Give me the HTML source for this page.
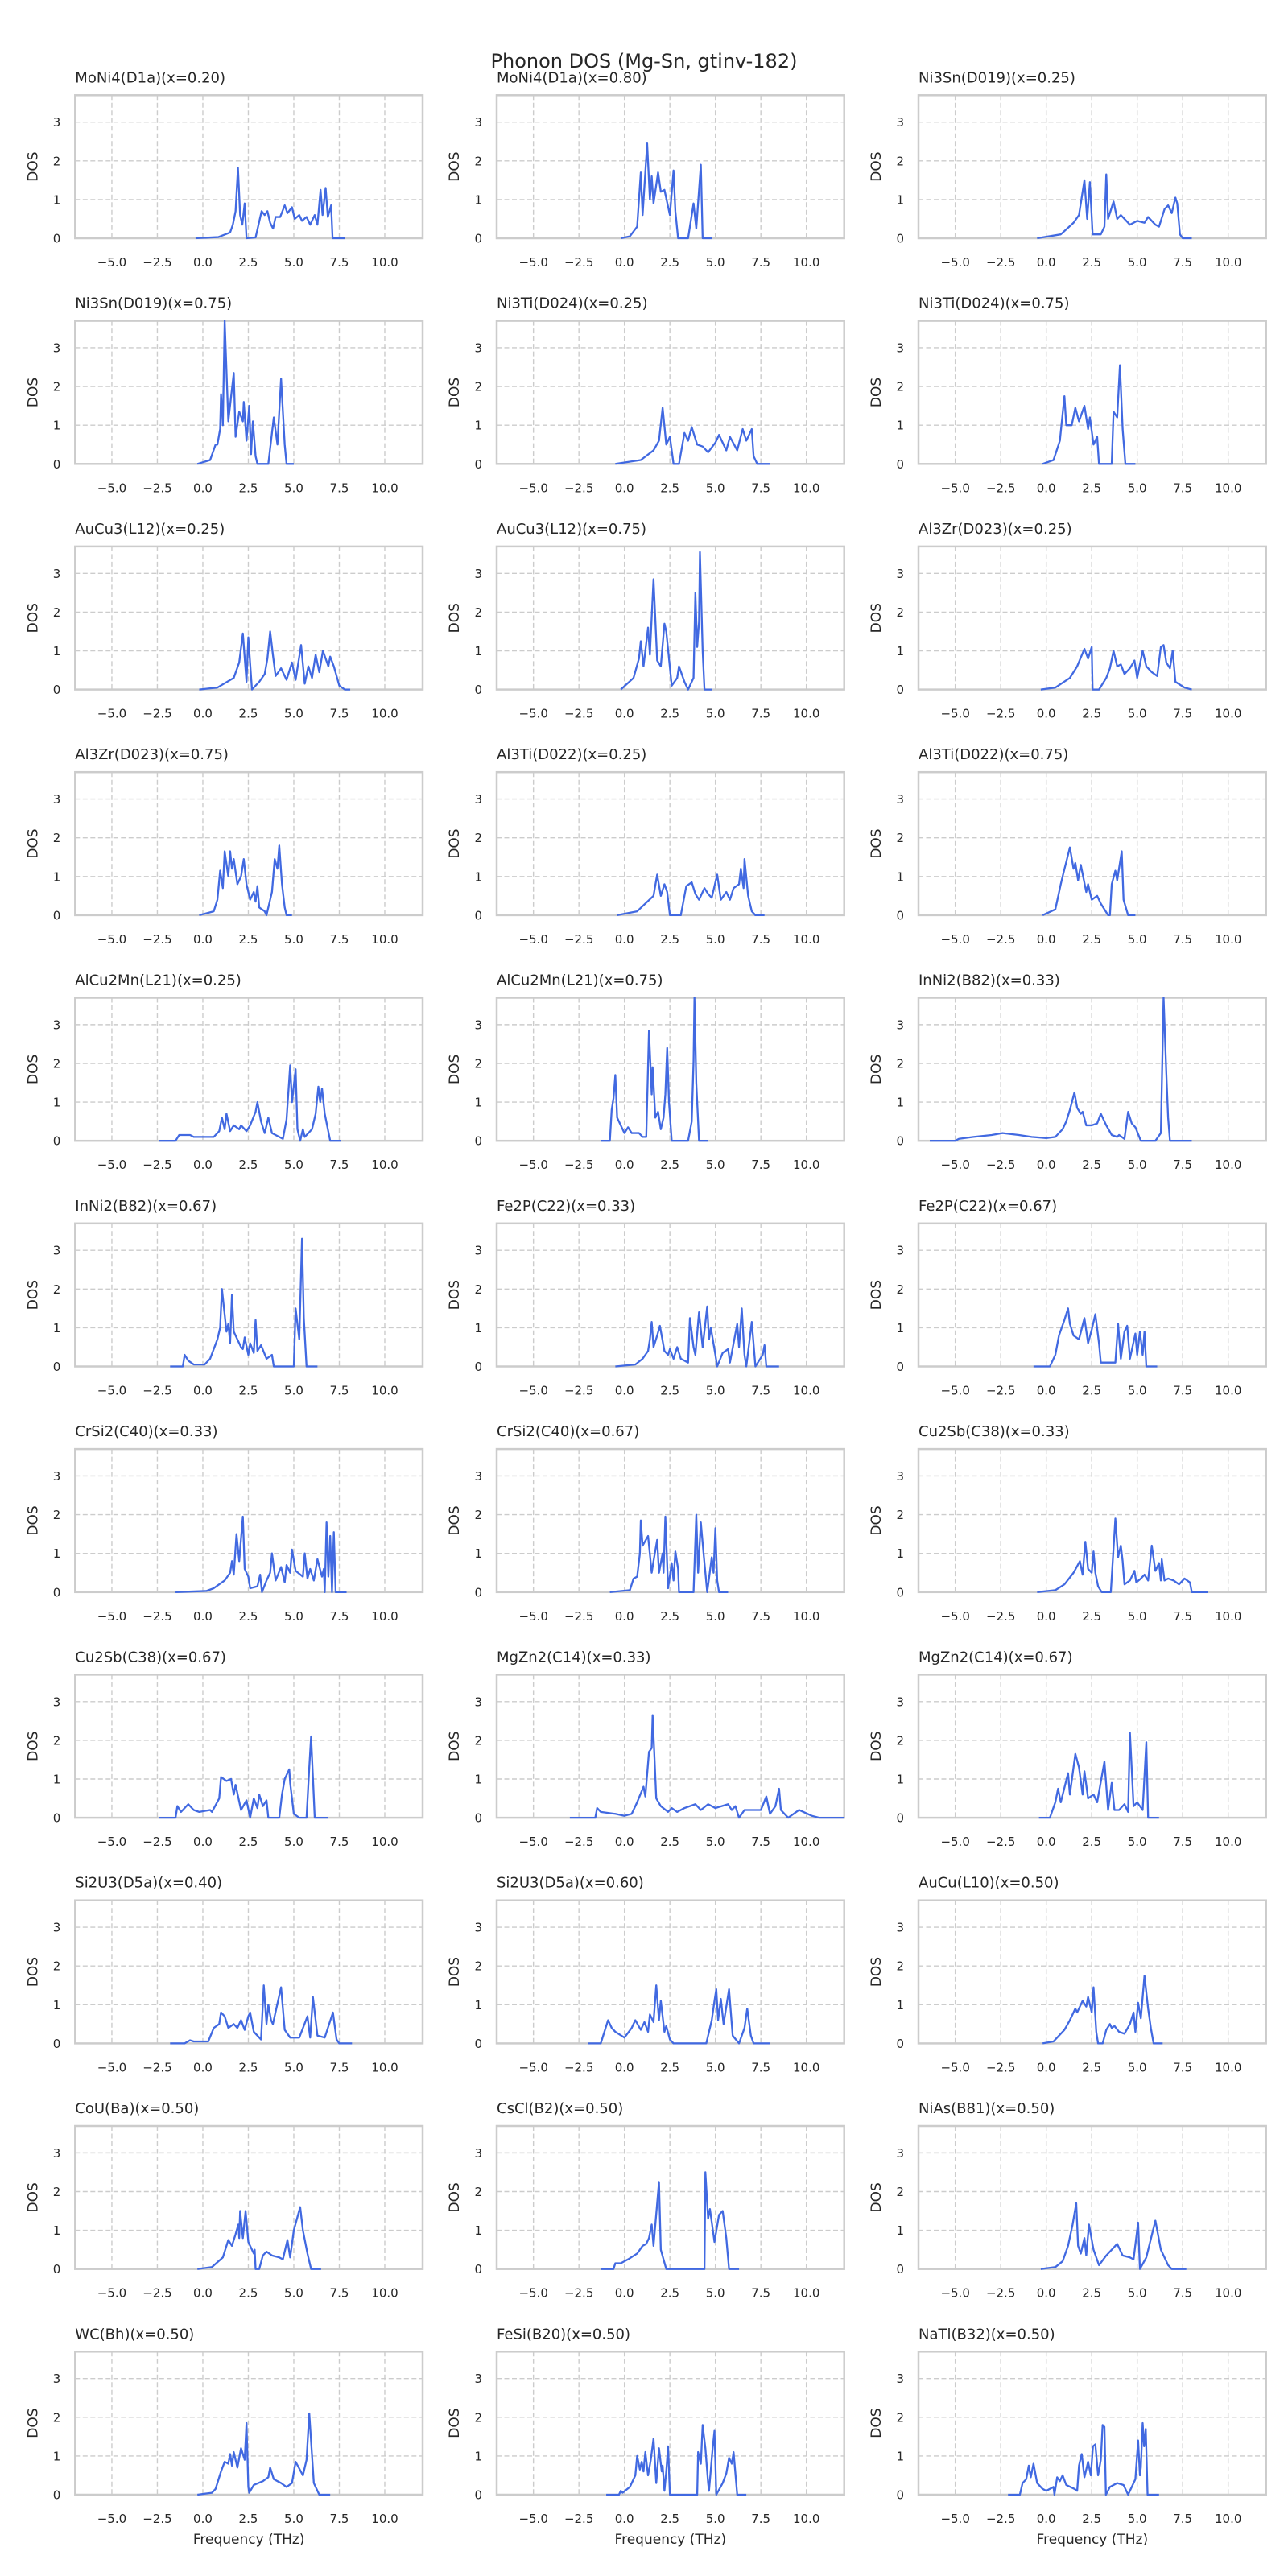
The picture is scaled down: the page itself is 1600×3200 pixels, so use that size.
<!DOCTYPE html>
<html><head><meta charset="utf-8"><title>Phonon DOS (Mg-Sn, gtinv-182)</title>
<style>
html,body{margin:0;padding:0;background:#fff;}
svg{display:block;font-family:"DejaVu Sans","Liberation Sans",sans-serif;}
</style></head>
<body>
<svg id="fig" width="1600" height="3200" viewBox="0 0 1600 3200" xmlns="http://www.w3.org/2000/svg">
<rect x="0" y="0" width="1600" height="3200" fill="#ffffff"/>
<text x="800" y="84" text-anchor="middle" font-size="24" fill="#262626">Phonon DOS (Mg-Sn, gtinv-182)</text>
</svg>
<script>
const titles = ["MoNi4(D1a)(x=0.20)","MoNi4(D1a)(x=0.80)","Ni3Sn(D019)(x=0.25)","Ni3Sn(D019)(x=0.75)","Ni3Ti(D024)(x=0.25)","Ni3Ti(D024)(x=0.75)","AuCu3(L12)(x=0.25)","AuCu3(L12)(x=0.75)","Al3Zr(D023)(x=0.25)","Al3Zr(D023)(x=0.75)","Al3Ti(D022)(x=0.25)","Al3Ti(D022)(x=0.75)","AlCu2Mn(L21)(x=0.25)","AlCu2Mn(L21)(x=0.75)","InNi2(B82)(x=0.33)","InNi2(B82)(x=0.67)","Fe2P(C22)(x=0.33)","Fe2P(C22)(x=0.67)","CrSi2(C40)(x=0.33)","CrSi2(C40)(x=0.67)","Cu2Sb(C38)(x=0.33)","Cu2Sb(C38)(x=0.67)","MgZn2(C14)(x=0.33)","MgZn2(C14)(x=0.67)","Si2U3(D5a)(x=0.40)","Si2U3(D5a)(x=0.60)","AuCu(L10)(x=0.50)","CoU(Ba)(x=0.50)","CsCl(B2)(x=0.50)","NiAs(B81)(x=0.50)","WC(Bh)(x=0.50)","FeSi(B20)(x=0.50)","NaTl(B32)(x=0.50)"];
const xTicks = [-5, -2.5, 0, 2.5, 5, 7.5, 10];
const xTickLabels = ["\u22125.0","\u22122.5","0.0","2.5","5.0","7.5","10.0"];
const yTicks = [0, 1, 2, 3];
const yTickLabels = ["0","1","2","3"];
const xLim = [-7.02, 12.08];
const yLim = [0, 3.694];

// [frequency (THz), DOS] pairs per panel
const s0 = [[-0.4,0],[0.85,0.03],[1.5,0.15],[1.65,0.35],[1.8,0.7],[1.93,1.82],[2.05,0.6],[2.17,0.35],[2.3,0.9],[2.4,0],[2.9,0.02],[3.23,0.7],[3.4,0.6],[3.55,0.7],[3.7,0.4],[3.86,0.25],[4.0,0.55],[4.25,0.55],[4.5,0.85],[4.65,0.65],[4.9,0.8],[5.05,0.5],[5.3,0.6],[5.45,0.45],[5.7,0.55],[5.9,0.35],[6.15,0.6],[6.3,0.35],[6.47,1.25],[6.58,0.6],[6.75,1.3],[6.87,0.55],[7.05,0.85],[7.13,0],[7.8,0]];
const s1 = [[-0.2,0],[0.3,0.05],[0.7,0.3],[0.9,1.7],[1.0,0.6],[1.25,2.45],[1.4,1.0],[1.5,1.6],[1.6,0.9],[1.85,1.7],[2.0,1.2],[2.2,1.25],[2.5,0.6],[2.7,1.75],[2.8,0.7],[2.95,0],[3.5,0],[3.8,0.9],[3.95,0.25],[4.2,1.9],[4.3,0],[4.8,0]];
const s2 = [[-0.5,0],[0.8,0.1],[1.5,0.4],[1.8,0.6],[2.1,1.5],[2.25,0.5],[2.4,1.45],[2.55,0.1],[3.0,0.1],[3.2,0.3],[3.3,1.65],[3.4,0.5],[3.7,0.95],[3.9,0.5],[4.1,0.6],[4.6,0.35],[5.0,0.45],[5.4,0.4],[5.6,0.55],[6.0,0.35],[6.2,0.3],[6.5,0.75],[6.7,0.85],[6.9,0.65],[7.1,1.05],[7.2,0.9],[7.35,0.1],[7.5,0],[8.0,0]];
const s3 = [[-0.3,0],[0.4,0.1],[0.7,0.5],[0.8,0.5],[0.95,0.9],[1.0,1.8],[1.1,1.0],[1.2,3.7],[1.4,1.1],[1.7,2.35],[1.8,0.7],[2.0,1.35],[2.2,1.1],[2.25,1.6],[2.4,0.6],[2.55,1.5],[2.65,0.25],[2.75,1.1],[2.9,0.2],[3.0,0],[3.6,0],[3.8,0.8],[3.9,1.2],[4.1,0.5],[4.3,2.2],[4.5,0.5],[4.6,0],[5.0,0]];
const s4 = [[-0.5,0],[0.9,0.1],[1.6,0.35],[1.9,0.6],[2.1,1.45],[2.3,0.5],[2.5,0.7],[2.7,0],[3.0,0],[3.3,0.8],[3.5,0.6],[3.7,0.95],[4.0,0.5],[4.3,0.45],[4.6,0.3],[5.0,0.55],[5.2,0.75],[5.6,0.35],[5.8,0.7],[6.2,0.35],[6.5,0.9],[6.7,0.6],[7.0,0.9],[7.1,0.2],[7.3,0],[8.0,0]];
const s5 = [[-0.2,0],[0.4,0.1],[0.75,0.6],[1.0,1.75],[1.1,1.0],[1.4,1.0],[1.6,1.45],[1.8,1.1],[2.1,1.5],[2.3,0.9],[2.4,1.2],[2.6,0.5],[2.8,0.7],[2.9,0],[3.6,0],[3.7,1.35],[3.9,1.2],[4.05,2.55],[4.2,0.9],[4.35,0],[4.9,0]];
const s6 = [[-0.2,0],[0.8,0.05],[1.7,0.3],[2.0,0.7],[2.2,1.45],[2.4,0.2],[2.5,1.35],[2.7,0],[3.1,0.2],[3.4,0.4],[3.55,0.8],[3.7,1.5],[3.85,0.9],[4.0,0.35],[4.3,0.55],[4.6,0.25],[4.9,0.7],[5.1,0.25],[5.4,1.15],[5.6,0.15],[5.8,0.6],[6.0,0.3],[6.2,0.9],[6.4,0.45],[6.6,1.0],[6.9,0.6],[7.0,0.85],[7.2,0.6],[7.5,0.1],[7.8,0],[8.1,0]];
const s7 = [[-0.2,0],[0.5,0.3],[0.8,0.8],[0.9,1.25],[1.05,0.6],[1.3,1.6],[1.4,0.9],[1.6,2.85],[1.8,0.75],[2.0,0.6],[2.2,1.7],[2.3,1.5],[2.6,0.1],[2.9,0.3],[3.0,0.6],[3.3,0.2],[3.5,0],[3.8,0.3],[3.9,2.5],[4.0,1.1],[4.1,1.75],[4.15,3.55],[4.3,1.0],[4.4,0],[4.8,0]];
const s8 = [[-0.3,0],[0.5,0.05],[1.3,0.3],[1.7,0.6],[2.1,1.05],[2.3,0.8],[2.5,1.1],[2.55,0],[2.9,0],[3.3,0.3],[3.5,0.55],[3.7,1.0],[3.9,0.6],[4.1,0.65],[4.3,0.4],[4.6,0.55],[4.85,0.75],[5.0,0.3],[5.3,1.0],[5.5,0.6],[5.8,0.45],[6.1,0.35],[6.3,1.1],[6.45,1.15],[6.6,0.7],[6.8,0.55],[6.95,1.0],[7.1,0.2],[7.6,0.05],[8.0,0]];
const s9 = [[-0.2,0],[0.6,0.1],[0.8,0.4],[0.95,1.15],[1.1,0.7],[1.2,1.65],[1.4,1.0],[1.5,1.65],[1.6,1.2],[1.7,1.45],[1.9,0.8],[2.1,1.0],[2.25,1.45],[2.4,0.8],[2.6,0.4],[2.8,0.6],[2.9,0.35],[3.0,0.75],[3.1,0.2],[3.4,0.1],[3.5,0],[3.8,0.6],[3.95,1.45],[4.1,1.2],[4.2,1.8],[4.35,0.8],[4.5,0.2],[4.6,0],[4.9,0]];
const s10 = [[-0.4,0],[0.7,0.1],[1.6,0.5],[1.8,1.05],[2.0,0.5],[2.2,0.8],[2.35,0.6],[2.5,0],[3.1,0],[3.4,0.75],[3.7,0.85],[3.9,0.55],[4.1,0.4],[4.4,0.7],[4.6,0.55],[4.8,0.45],[5.1,1.05],[5.3,0.4],[5.6,0.6],[5.8,0.4],[6.0,0.7],[6.3,0.8],[6.4,1.2],[6.55,0.7],[6.6,1.45],[6.8,0.5],[7.0,0.1],[7.2,0],[7.7,0]];
const s11 = [[-0.2,0],[0.5,0.15],[0.8,0.8],[0.9,1.0],[1.3,1.75],[1.5,1.2],[1.6,1.35],[1.75,0.9],[1.9,1.3],[2.2,0.6],[2.3,0.8],[2.5,0.4],[2.8,0.5],[3.0,0.3],[3.4,0],[3.5,0],[3.6,0.8],[3.8,1.15],[3.9,0.9],[4.15,1.65],[4.25,0.4],[4.5,0],[4.9,0]];
const s12 = [[-2.4,0],[-1.5,0],[-1.3,0.15],[-0.7,0.15],[-0.5,0.1],[0.6,0.1],[0.9,0.25],[1.05,0.6],[1.2,0.3],[1.3,0.7],[1.5,0.25],[1.7,0.4],[2.0,0.3],[2.1,0.4],[2.4,0.25],[2.6,0.4],[2.9,0.75],[3.0,1.0],[3.2,0.5],[3.4,0.2],[3.6,0.6],[3.8,0.2],[4.4,0.05],[4.6,0.55],[4.8,1.95],[4.9,1.0],[5.1,1.85],[5.2,0.3],[5.35,0],[5.5,0.3],[5.6,0.1],[6.0,0.3],[6.2,0.7],[6.35,1.4],[6.45,1.0],[6.55,1.35],[6.7,0.7],[7.0,0],[7.6,0]];
const s13 = [[-1.3,0],[-0.8,0],[-0.7,0.8],[-0.6,1.1],[-0.5,1.7],[-0.4,0.6],[-0.2,0.4],[0.0,0.2],[0.2,0.35],[0.4,0.2],[0.8,0.2],[1.0,0.1],[1.2,0.1],[1.35,2.85],[1.5,1.2],[1.55,1.9],[1.7,0.6],[1.85,0.75],[2.0,0.3],[2.15,0.6],[2.25,1.2],[2.35,2.4],[2.45,1.0],[2.6,0],[3.5,0],[3.7,0.5],[3.8,2.05],[3.85,3.7],[3.95,1.5],[4.1,0],[4.6,0]];
const s14 = [[-6.4,0],[-5.0,0],[-4.8,0.05],[-4.0,0.1],[-3.0,0.15],[-2.4,0.2],[-1.5,0.15],[-0.8,0.1],[0.0,0.07],[0.5,0.1],[0.9,0.3],[1.1,0.5],[1.3,0.8],[1.55,1.25],[1.7,0.85],[1.9,0.7],[2.0,0.75],[2.2,0.4],[2.5,0.4],[2.8,0.45],[3.0,0.7],[3.3,0.4],[3.6,0.15],[3.9,0.1],[4.0,0.15],[4.3,0.05],[4.5,0.75],[4.7,0.45],[4.9,0.35],[5.2,0],[6.0,0],[6.3,0.2],[6.45,3.7],[6.6,1.75],[6.7,0.6],[6.8,0],[8.0,0]];
const s15 = [[-1.8,0],[-1.1,0],[-1.0,0.3],[-0.8,0.15],[-0.5,0.05],[0.1,0.05],[0.4,0.2],[0.8,0.7],[0.95,1.0],[1.05,2.0],[1.3,0.9],[1.4,1.1],[1.5,0.6],[1.6,1.85],[1.7,0.9],[2.1,0.5],[2.2,0.45],[2.3,0.75],[2.5,0.3],[2.6,0.6],[2.8,0.35],[2.9,1.2],[3.0,0.4],[3.2,0.55],[3.5,0.2],[3.8,0.3],[3.9,0],[5.0,0],[5.1,1.5],[5.3,0.7],[5.45,3.3],[5.55,1.25],[5.7,0],[6.3,0]];
const s16 = [[-0.5,0],[0.6,0.05],[1.0,0.2],[1.3,0.4],[1.4,0.7],[1.5,1.15],[1.6,0.5],[1.8,0.8],[1.95,1.05],[2.2,0.4],[2.4,0.3],[2.5,0.45],[2.7,0.2],[2.9,0.5],[3.1,0.2],[3.5,0.1],[3.6,1.25],[3.8,0.5],[3.9,0.3],[4.1,1.4],[4.3,0.5],[4.55,1.55],[4.65,0.7],[4.75,1.0],[5.0,0.3],[5.1,0],[5.4,0.35],[5.7,0.45],[5.8,0.1],[6.2,1.1],[6.3,0.5],[6.45,1.5],[6.6,0.3],[6.7,0],[7.0,1.15],[7.2,0],[7.6,0.3],[7.7,0.55],[7.8,0],[8.5,0]];
const s17 = [[-0.7,0],[0.2,0],[0.5,0.3],[0.7,0.8],[1.0,1.2],[1.2,1.5],[1.3,1.1],[1.5,0.8],[1.8,0.7],[2.1,1.25],[2.3,0.6],[2.5,0.95],[2.7,1.35],[2.9,0.6],[3.0,0.1],[3.8,0.1],[3.95,1.1],[4.1,0.2],[4.3,0.9],[4.45,1.05],[4.6,0.2],[4.9,0.85],[5.0,0.3],[5.15,0.9],[5.3,0.3],[5.4,0.9],[5.5,0],[6.1,0]];
const s18 = [[-1.5,0],[0.2,0.03],[0.6,0.1],[1.2,0.3],[1.5,0.5],[1.6,0.8],[1.7,0.45],[1.85,1.5],[2.0,0.8],[2.05,1.1],[2.2,1.95],[2.3,0.6],[2.5,0.4],[2.6,0.1],[3.0,0.15],[3.15,0.45],[3.25,0],[3.5,0.3],[3.7,0.5],[3.8,1.0],[4.0,0.3],[4.3,0.65],[4.5,0.25],[4.6,0.7],[4.8,0.5],[4.9,1.1],[5.1,0.55],[5.5,0.4],[5.6,1.0],[5.75,0.35],[5.9,0.6],[6.1,0.3],[6.3,0.85],[6.55,0.4],[6.65,0.6],[6.7,0],[6.8,1.8],[6.9,0.4],[7.0,1.45],[7.1,0],[7.2,1.55],[7.3,0],[7.9,0]];
const s19 = [[-0.8,0],[0.3,0.05],[0.5,0.35],[0.7,0.4],[0.85,1.0],[0.9,1.85],[1.0,1.2],[1.3,1.45],[1.5,0.5],[1.6,0.8],[1.8,1.35],[1.9,0.5],[2.1,1.0],[2.15,0.5],[2.25,1.95],[2.4,0.1],[2.6,0.75],[2.7,0.3],[2.8,1.05],[2.95,0.6],[3.0,0],[3.8,0],[3.95,2.0],[4.05,0.5],[4.2,1.8],[4.35,1.0],[4.55,0],[4.8,0.9],[4.9,0.5],[5.0,1.65],[5.1,0.3],[5.2,0],[5.7,0]];
const s20 = [[-0.5,0],[0.5,0.05],[1.0,0.2],[1.5,0.5],[1.85,0.8],[2.0,0.45],[2.15,1.3],[2.3,0.6],[2.5,0.5],[2.6,1.05],[2.7,0.5],[2.85,0.15],[3.05,0],[3.55,0],[3.8,1.9],[3.95,0.9],[4.1,1.2],[4.2,0.8],[4.3,0.2],[4.6,0.3],[4.85,0.55],[4.95,0.25],[5.2,0.35],[5.4,0.45],[5.6,0.3],[5.8,1.2],[6.0,0.55],[6.2,0.75],[6.3,0.3],[6.35,0.85],[6.5,0.3],[6.7,0.35],[7.0,0.3],[7.3,0.2],[7.6,0.35],[7.9,0.25],[8.0,0],[8.9,0]];
const s21 = [[-2.4,0],[-1.5,0],[-1.4,0.3],[-1.2,0.15],[-0.8,0.35],[-0.5,0.2],[-0.2,0.15],[0.4,0.2],[0.5,0.15],[0.9,0.5],[1.0,1.05],[1.3,0.95],[1.55,1.0],[1.7,0.6],[1.8,0.85],[2.1,0.2],[2.4,0.45],[2.6,0],[2.8,0.5],[3.0,0.25],[3.1,0.6],[3.3,0.3],[3.5,0.45],[3.6,0],[4.2,0],[4.35,0.6],[4.5,1.0],[4.75,1.25],[4.8,0.9],[5.0,0.1],[5.3,0],[5.7,0],[5.85,1.3],[5.95,2.1],[6.15,0],[6.9,0]];
const s22 = [[-3.0,0],[-1.6,0],[-1.5,0.25],[-1.3,0.15],[-0.5,0.1],[0.0,0.05],[0.4,0.1],[0.7,0.4],[1.05,0.8],[1.15,0.55],[1.35,1.7],[1.5,1.8],[1.55,2.65],[1.75,0.5],[2.0,0.3],[2.4,0.15],[2.6,0.25],[2.9,0.15],[3.3,0.25],[3.9,0.35],[4.2,0.2],[4.6,0.35],[5.0,0.25],[5.7,0.35],[5.9,0.2],[6.1,0.3],[6.3,0],[6.6,0.2],[7.5,0.2],[7.8,0.55],[8.0,0.1],[8.3,0.3],[8.5,0.75],[8.6,0.2],[9.0,0],[9.6,0.2],[10.3,0.05],[10.7,0],[12.1,0]];
const s23 = [[-0.4,0],[0.2,0],[0.5,0.4],[0.65,0.75],[0.8,0.4],[1.2,1.15],[1.3,0.6],[1.6,1.65],[1.8,1.3],[2.0,0.6],[2.1,1.2],[2.3,0.5],[2.6,0.6],[2.8,0.4],[3.2,1.45],[3.4,0.2],[3.6,0.9],[3.75,0.2],[4.0,0.2],[4.3,0.35],[4.5,0.15],[4.6,2.2],[4.8,0.3],[5.0,0.4],[5.3,0.2],[5.5,1.95],[5.6,0],[6.2,0]];
const s24 = [[-1.8,0],[-1.0,0],[-0.7,0.08],[-0.5,0.05],[0.3,0.05],[0.6,0.4],[0.9,0.5],[1.0,0.8],[1.2,0.7],[1.4,0.4],[1.7,0.5],[1.9,0.4],[2.1,0.6],[2.3,0.35],[2.5,0.7],[2.6,0.8],[2.8,0.3],[3.2,0.1],[3.35,1.5],[3.5,0.5],[3.6,1.0],[3.75,0.6],[3.85,0.5],[4.3,1.45],[4.5,0.35],[4.8,0.15],[5.3,0.15],[5.75,0.7],[5.9,0.15],[6.05,1.2],[6.3,0.2],[6.7,0.15],[7.15,0.8],[7.35,0.1],[7.5,0],[8.2,0]];
const s25 = [[-2.0,0],[-1.3,0],[-1.1,0.3],[-0.9,0.6],[-0.7,0.4],[-0.5,0.3],[0.0,0.15],[0.4,0.4],[0.6,0.6],[0.9,0.35],[1.1,0.55],[1.3,0.3],[1.4,0.75],[1.6,0.55],[1.75,1.5],[1.9,0.6],[2.0,1.1],[2.2,0.3],[2.3,0.45],[2.5,0.1],[2.7,0],[4.5,0],[4.8,0.6],[4.95,1.1],[5.05,1.4],[5.15,0.6],[5.3,1.15],[5.45,0.5],[5.75,1.4],[5.95,0.2],[6.3,0],[6.6,0.4],[6.75,0.9],[6.95,0.2],[7.1,0],[8.0,0]];
const s26 = [[-0.2,0],[0.4,0.05],[1.0,0.35],[1.3,0.6],[1.6,0.9],[1.7,0.8],[2.0,1.1],[2.2,0.95],[2.3,1.2],[2.5,0.8],[2.6,1.45],[2.75,0.3],[2.85,0],[3.1,0],[3.3,0.35],[3.5,0.5],[3.6,0.4],[3.75,0.45],[4.0,0.3],[4.3,0.25],[4.6,0.5],[4.8,0.8],[4.9,0.3],[5.05,1.05],[5.2,0.65],[5.4,1.75],[5.6,0.9],[5.75,0.4],[5.9,0],[6.4,0]];
const s27 = [[-0.3,0],[0.5,0.05],[1.1,0.3],[1.4,0.75],[1.6,0.6],[1.8,0.9],[1.95,1.15],[2.0,0.8],[2.05,1.5],[2.2,0.8],[2.35,1.5],[2.5,0.7],[2.6,0.6],[2.8,0.4],[2.85,0.5],[2.9,0],[3.1,0],[3.3,0.35],[3.5,0.45],[3.8,0.35],[4.2,0.3],[4.4,0.25],[4.65,0.75],[4.8,0.3],[5.0,1.0],[5.35,1.6],[5.5,1.0],[5.75,0.4],[5.95,0],[6.5,0]];
const s28 = [[-1.3,0],[-0.6,0],[-0.5,0.15],[-0.2,0.15],[0.2,0.25],[0.7,0.4],[1.0,0.6],[1.2,0.65],[1.35,0.8],[1.5,1.15],[1.6,0.6],[1.9,2.25],[2.0,0.5],[2.3,0],[4.4,0],[4.45,2.5],[4.6,1.3],[4.7,1.55],[4.95,0.7],[5.2,1.4],[5.4,1.5],[5.6,0.8],[5.75,0],[6.3,0]];
const s29 = [[-0.3,0],[0.5,0.05],[0.9,0.2],[1.2,0.6],[1.45,1.15],[1.65,1.7],[1.75,0.6],[1.9,0.4],[2.1,0.8],[2.2,0.35],[2.35,1.15],[2.6,0.5],[2.9,0.1],[3.3,0.35],[3.9,0.65],[4.2,0.35],[4.6,0.3],[4.8,0.25],[5.05,1.2],[5.15,0],[5.5,0.3],[6.0,1.25],[6.3,0.5],[6.7,0.1],[6.9,0],[7.7,0]];
const s30 = [[-0.3,0],[0.5,0.05],[0.7,0.15],[1.0,0.6],[1.2,0.85],[1.4,0.8],[1.5,1.05],[1.6,0.75],[1.7,1.1],[1.9,0.7],[2.1,1.2],[2.3,0.9],[2.4,1.85],[2.5,0.2],[2.55,0.05],[2.8,0.25],[3.3,0.35],[3.6,0.45],[3.7,0.7],[3.9,0.4],[4.3,0.3],[4.6,0.2],[4.9,0.3],[5.1,0.85],[5.5,0.5],[5.7,0.9],[5.85,2.1],[6.1,0.3],[6.4,0],[7.0,0]];
const s31 = [[-1.0,0],[-0.3,0],[-0.2,0.1],[-0.1,0.05],[0.3,0.2],[0.6,0.5],[0.7,1.0],[0.85,0.65],[0.95,0.85],[1.05,0.6],[1.15,1.1],[1.3,0.5],[1.45,0.9],[1.6,1.45],[1.75,0.3],[1.9,1.2],[2.05,0.6],[2.1,0.75],[2.2,0.1],[2.3,0.6],[2.4,1.25],[2.5,0],[4.0,0],[4.05,1.1],[4.2,0.8],[4.3,1.8],[4.45,1.2],[4.6,0.3],[4.65,0.1],[4.85,1.2],[4.95,1.65],[5.05,0],[5.4,0.3],[5.6,0.55],[5.75,0.95],[5.9,0.8],[6.0,1.1],[6.2,0],[6.7,0]];
const s32 = [[-2.1,0],[-1.45,0],[-1.3,0.3],[-1.1,0.4],[-0.96,0.75],[-0.85,0.45],[-0.7,0.8],[-0.5,0.3],[-0.2,0.15],[0.0,0.1],[0.4,0.2],[0.45,0],[0.6,0.45],[0.75,0.35],[0.9,0.5],[1.1,0.25],[1.55,0.15],[1.7,0.1],[1.8,0.75],[1.95,1.05],[2.1,0.45],[2.3,0.85],[2.45,0.5],[2.57,1.25],[2.7,1.3],[2.85,0.5],[3.0,0.9],[3.1,1.8],[3.2,1.75],[3.28,0],[3.5,0.2],[3.9,0.3],[4.25,0.25],[4.5,0],[4.9,0.4],[5.05,1.4],[5.15,0.5],[5.2,0.7],[5.3,1.85],[5.38,1.25],[5.47,1.7],[5.57,0],[6.2,0]];
const allSeries = [s0,s1,s2,s3,s4,s5,s6,s7,s8,s9,s10,s11,s12,s13,s14,s15,s16,s17,s18,s19,s20,s21,s22,s23,s24,s25,s26,s27,s28,s29,s30,s31,s32];

const NS = "http://www.w3.org/2000/svg";
const fig = document.getElementById("fig");
const colLeft = [93.3, 617, 1141];
const axW = 431.7, axH = 177.7, top0 = 118.3, rowPitch = 280.3;

function mk(tag, attrs, parent) {
  const el = document.createElementNS(NS, tag);
  for (const k in attrs) el.setAttribute(k, attrs[k]);
  parent.appendChild(el);
  return el;
}

titles.forEach(function (title, i) {
  const r = Math.floor(i / 3), c = i % 3;
  const L = colLeft[c], T = top0 + r * rowPitch, B = T + axH, R = L + axW;
  const xs = function (v) { return L + (v - xLim[0]) / (xLim[1] - xLim[0]) * axW; };
  const ys = function (v) { return B - (v - yLim[0]) / (yLim[1] - yLim[0]) * axH; };

  const g = mk("g", {}, fig);
  
  

  xTicks.forEach(function (t) {
    const ln = mk("line", {x1: xs(t), x2: xs(t), y1: T, y2: B, stroke: "#cccccc", "stroke-width": 1.4, "stroke-dasharray": "6,3.5"}, g);
    
    
  });
  yTicks.forEach(function (t) {
    if (t === 0) return;
    const ln = mk("line", {x1: L, x2: R, y1: ys(t), y2: ys(t), stroke: "#cccccc", "stroke-width": 1.4, "stroke-dasharray": "6,3.5"}, g);
    
    
  });

  const frame = mk("rect", {x: L, y: T, width: axW, height: axH, fill: "none", stroke: "#cccccc", "stroke-width": 2.5}, g);
  
  

  const pts = allSeries[i].map(function (p) { return xs(p[0]).toFixed(2) + "," + ys(p[1]).toFixed(2); }).join(" ");
  const pl = mk("polyline", {points: pts, fill: "none", stroke: "#4169e1", "stroke-width": 2.3, "stroke-linejoin": "round"}, g);
  
  

  const tt = mk("text", {x: L, y: T - 16, "font-size": 18, fill: "#262626"}, g);
  tt.textContent = title;
  
  

  yTicks.forEach(function (t, k) {
    const tx = mk("text", {x: L - 18, y: ys(t) + 5.5, "font-size": 15, fill: "#262626", "text-anchor": "end"}, g);
    tx.textContent = yTickLabels[k];
    
    
  });
  xTicks.forEach(function (t, k) {
    const tx = mk("text", {x: xs(t), y: B + 35, "font-size": 15, fill: "#262626", "text-anchor": "middle"}, g);
    tx.textContent = xTickLabels[k];
    
    
  });

  const yl = mk("text", {x: 0, y: 0, "font-size": 17, fill: "#262626", "text-anchor": "middle", transform: "translate(" + (L - 47) + "," + (T + axH / 2) + ") rotate(-90)"}, g);
  yl.textContent = "DOS";
  
  

  if (r === 10) {
    const xl = mk("text", {x: L + axW / 2, y: B + 61, "font-size": 17, fill: "#262626", "text-anchor": "middle"}, g);
    xl.textContent = "Frequency (THz)";
    
    
  }
});
</script>
</body></html>
